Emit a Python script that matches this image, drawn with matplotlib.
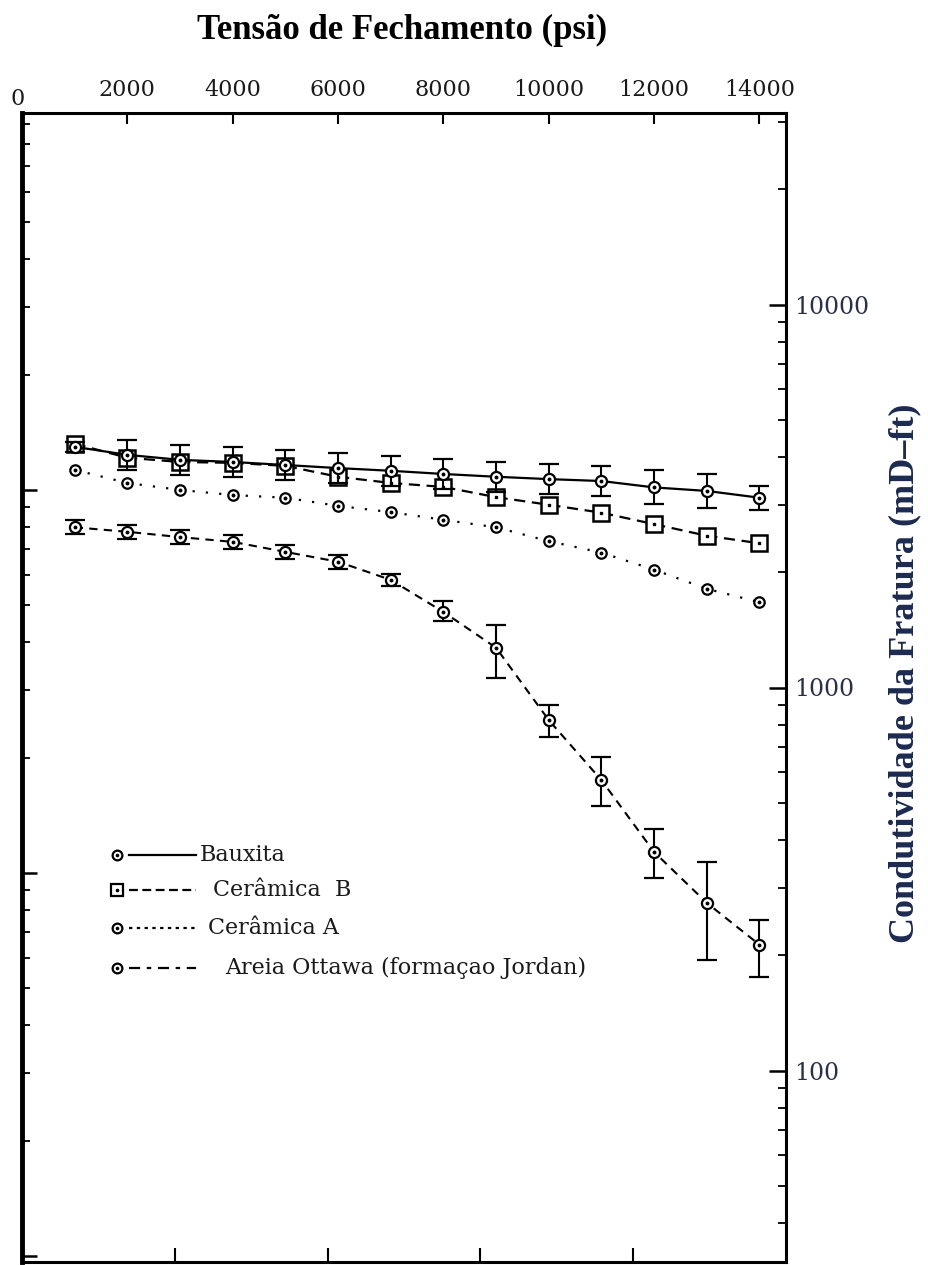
import numpy as np
import matplotlib.pyplot as plt
from matplotlib.ticker import FixedLocator, FixedFormatter, LogLocator, NullFormatter

# closure stress (psi)
psi = [1000, 2000, 3000, 4000, 5000, 6000, 7000,
       8000, 9000, 10000, 11000, 12000, 13000, 14000]

# fracture conductivity (mD-ft)
bauxita = [4250, 4050, 3930, 3880, 3810, 3740, 3680,
           3610, 3550, 3500, 3460, 3330, 3260, 3130]
bauxita_lo = [4120, 3700, 3590, 3550, 3480, 3420, 3360,
              3300, 3240, 3200, 3160, 3010, 2940, 2910]
bauxita_hi = [4370, 4430, 4300, 4250, 4170, 4090, 4020,
              3950, 3880, 3830, 3780, 3690, 3610, 3360]

ceramica_b = [4330, 3980, 3880, 3860, 3790, 3550, 3420,
              3340, 3140, 3000, 2860, 2670, 2490, 2380]

ceramica_a = [3700, 3420, 3280, 3180, 3130, 2980, 2870,
              2740, 2620, 2410, 2250, 2030, 1810, 1670]

ottawa = [2620, 2550, 2470, 2400, 2260, 2130, 1910,
          1575, 1270, 822, 573, 372, 274, 213]
ottawa_lo = [2516, 2441, 2370, 2299, 2166, 2040, 1841,
             1493, 1059, 743, 491, 318, 194, 175]
ottawa_hi = [2735, 2655, 2578, 2500, 2356, 2219, 1977,
             1683, 1456, 900, 659, 427, 350, 247]

top_ticks = [0, 2000, 4000, 6000, 8000, 10000, 12000, 14000]
top_labels = ['', '2000', '4000', '6000', '8000', '10000', '12000', '14000']
bottom_ticks_mpa = [20, 40, 60, 80]      # unlabelled ticks of the original figure
right_ticks = [100, 1000, 10000]

W, H = 929, 1265
fig = plt.figure(figsize=(W / 100, H / 100), dpi=100)
ax = fig.add_axes([22 / W, 3 / H, 764 / W, 1149 / H])

serif = 'DejaVu Serif'

# series
ax.plot(psi, ceramica_b, color='black', lw=1.6, ls=(0, (5, 3)),
        marker='s', ms=11, mfc='white', mec='black', mew=1.8, zorder=3)

b = np.array(bauxita)
ax.errorbar(psi, bauxita, yerr=[b - np.array(bauxita_lo), np.array(bauxita_hi) - b],
            color='black', lw=1.6, ls='-', marker='o', ms=8, mfc='white',
            mec='black', mew=1.6, ecolor='black', elinewidth=1.5,
            capsize=7, capthick=2.2, zorder=4)

ax.plot(psi, ceramica_a, color='black', lw=1.6, ls=(0, (1, 5)),
        marker='o', ms=7.5, mfc='white', mec='black', mew=1.6, zorder=4)

o = np.array(ottawa)
ax.errorbar(psi, ottawa, yerr=[o - np.array(ottawa_lo), np.array(ottawa_hi) - o],
            color='black', lw=1.5, ls=(0, (4, 3)), marker='o', ms=8, mfc='white',
            mec='black', mew=1.6, ecolor='black', elinewidth=1.5,
            capsize=7, capthick=2.2, zorder=4)

# small dot in the middle of the symbols
for ys in (bauxita, ceramica_a, ottawa):
    ax.plot(psi, ys, ls='none', marker='o', ms=1.8, color='black', zorder=5)
ax.plot(psi, ceramica_b, ls='none', marker='s', ms=2, color='black', zorder=3.5)

# axes
ax.set_yscale('log')
ax.set_xlim(0, 14504)
ax.set_ylim(10 ** 1.5, 10 ** 4.5)

for side, sp in ax.spines.items():
    sp.set_linewidth(2.2)
ax.spines['left'].set_linewidth(3.5)

# top axis: psi labels
ax.xaxis.tick_top()
ax.xaxis.set_major_locator(FixedLocator(top_ticks))
ax.xaxis.set_major_formatter(FixedFormatter(top_labels))
ax.tick_params(axis='x', which='major', direction='in', length=8, width=1.5,
               pad=9, labelsize=16, labelcolor='#1a1a1a')
for lab in ax.get_xticklabels():
    lab.set_fontfamily(serif)
fig.text(18 / W, 1 - 99 / H, '0', ha='center', va='center', fontsize=16,
         fontfamily=serif, color='#1a1a1a')

# bottom: MPa ticks without labels
sec_b = ax.secondary_xaxis('bottom', functions=(lambda p: p / 145.04, lambda m: m * 145.04))
sec_b.set_xticks(bottom_ticks_mpa)
sec_b.set_xticklabels([])
sec_b.tick_params(direction='in', length=10, width=1.5)
sec_b.spines['bottom'].set_visible(False)

# right axis: conductivity (mD-ft)
ax.yaxis.tick_right()
ax.yaxis.set_major_locator(FixedLocator(right_ticks))
ax.yaxis.set_major_formatter(FixedFormatter([str(t) for t in right_ticks]))
ax.yaxis.set_minor_locator(LogLocator(base=10, subs=np.arange(2, 10)))
ax.yaxis.set_minor_formatter(NullFormatter())
ax.tick_params(axis='y', which='major', direction='in', length=12, width=1.8,
               pad=6, labelsize=17, labelcolor='#2b3046')
ax.tick_params(axis='y', which='minor', direction='in', length=6, width=1.3)
for lab in ax.get_yticklabels():
    lab.set_fontfamily(serif)

# left axis: same quantity in mD-m, ticks only
sec_l = ax.secondary_yaxis('left', functions=(lambda v: v / 3.281, lambda v: v * 3.281))
sec_l.yaxis.set_major_locator(LogLocator(base=10))
sec_l.yaxis.set_minor_locator(LogLocator(base=10, subs=np.arange(2, 10)))
sec_l.yaxis.set_major_formatter(NullFormatter())
sec_l.yaxis.set_minor_formatter(NullFormatter())
sec_l.tick_params(which='major', direction='in', length=11, width=1.8)
sec_l.tick_params(which='minor', direction='in', length=6, width=1.3)
sec_l.spines['left'].set_visible(False)

# legend drawn by hand (marker, then line, then text)
def axf(px, py):
    return (px - 22) / 764, (1262 - py) / 1149

legend_rows = [
    ('Bauxita', 'o', '-', 855, 200),
    ('Cerâmica  B', 's', (0, (4, 2)), 890, 213),
    ('Cerâmica A', 'o', (0, (1.5, 2)), 928, 208),
    ('Areia Ottawa (formaçao Jordan)', 'o', (0, (5, 3, 2, 3)), 968, 225),
]
for label, mk, ls, py, tx in legend_rows:
    mx, my = axf(117, py)
    x0, _ = axf(129, py)
    x1, _ = axf(196, py)
    ax.plot([x0, x1], [my, my], transform=ax.transAxes, color='black', lw=1.6, ls=ls)
    ax.plot([mx], [my], transform=ax.transAxes, marker=mk, ms=7 if mk == 'o' else 8,
            mfc='white', mec='black', mew=1.6, ls='none')
    ax.plot([mx], [my], transform=ax.transAxes, marker='o', ms=1.6, color='black', ls='none')
    ttx, _ = axf(tx, py)
    ax.text(ttx, my, label, transform=ax.transAxes, ha='left', va='center',
            fontsize=16, fontfamily=serif, color='#1a1a1a')

# titles
fig.text(402 / W, 1 - 30 / H, 'Tensão de Fechamento (psi)', ha='center', va='center',
         fontsize=25, fontweight='bold', fontfamily='Liberation Serif', color='black')
fig.text(905 / W, 1 - 673 / H, 'Condutividade da Fratura (mD–ft)', ha='center', va='center',
         rotation=90, fontsize=26, fontweight='bold', fontfamily='Liberation Serif',
         color='#1c2a4f')

fig.savefig('out.png', dpi=100)
